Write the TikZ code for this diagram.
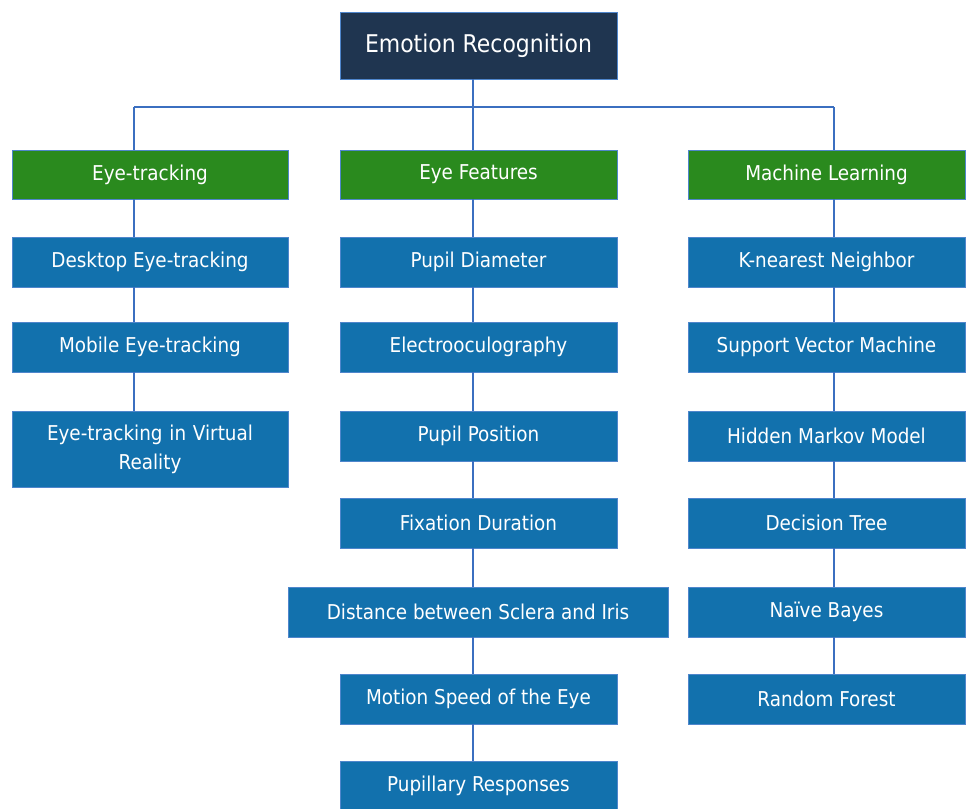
\documentclass[tikz,border=0pt]{standalone}
\usepackage{fontspec}
\setmainfont{DejaVu Sans Condensed}
\definecolor{navy}{HTML}{1F3550}
\definecolor{leafgreen}{HTML}{2A8A1E}
\definecolor{itemblue}{HTML}{1271AD}
\definecolor{edgeblue}{HTML}{4F86CC}
\definecolor{wireblue}{HTML}{3B6FC0}
\begin{document}
\begin{tikzpicture}[x=1bp,y=-1bp,
  box/.style={draw=edgeblue, line width=0.9bp, text=white, align=center,
    inner sep=0pt, font=\fontsize{20.5}{29}\selectfont},
  rootbox/.style={box, fill=navy, font=\fontsize{24.5}{29}\selectfont},
  catbox/.style={box, fill=leafgreen},
  itembox/.style={box, fill=itemblue},
  wire/.style={draw=wireblue, line width=1.2bp}]
\useasboundingbox (0,0) rectangle (967,809);

% column axes of the connectors
\coordinate (cx1) at (134,0);
\coordinate (cx2) at (473,0);
\coordinate (cx3) at (834,0);
\coordinate (bus) at (0,107);

% root
\node[rootbox, minimum width=277bp, minimum height=67bp] (root) at (478.5,45.5) {Emotion Recognition};

% categories
\node[catbox, minimum width=276bp, minimum height=49bp] (c1) at (150,174.5) {Eye-tracking};
\node[catbox, minimum width=277bp, minimum height=49bp] (c2) at (478.5,174.5) {Eye Features};
\node[catbox, minimum width=277bp, minimum height=49bp] (c3) at (826.5,174.5) {Machine Learning};

% eye-tracking column
\node[itembox, minimum width=276bp, minimum height=50bp] (a1) at (150,262) {Desktop Eye-tracking};
\node[itembox, minimum width=276bp, minimum height=50bp] (a2) at (150,347) {Mobile Eye-tracking};
\node[itembox, minimum width=276bp, minimum height=76bp, text width=260bp] (a3) at (150,449) {Eye-tracking in Virtual\\Reality};

% eye features column
\node[itembox, minimum width=277bp, minimum height=50bp] (b1) at (478.5,262) {Pupil Diameter};
\node[itembox, minimum width=277bp, minimum height=50bp] (b2) at (478.5,347) {Electrooculography};
\node[itembox, minimum width=277bp, minimum height=50bp] (b3) at (478.5,436) {Pupil Position};
\node[itembox, minimum width=277bp, minimum height=50bp] (b4) at (478.5,523) {Fixation Duration};
\node[itembox, minimum width=380bp, minimum height=50bp] (b5) at (478,612) {Distance between Sclera and Iris};
\node[itembox, minimum width=277bp, minimum height=50bp] (b6) at (478.5,699) {Motion Speed of the Eye};
\node[itembox, minimum width=277bp, minimum height=50bp] (b7) at (478.5,786) {Pupillary Responses};

% machine learning column
\node[itembox, minimum width=277bp, minimum height=50bp] (m1) at (826.5,262) {K-nearest Neighbor};
\node[itembox, minimum width=277bp, minimum height=50bp] (m2) at (826.5,347) {Support Vector Machine};
\node[itembox, minimum width=277bp, minimum height=50bp] (m3) at (826.5,436) {Hidden Markov Model};
\node[itembox, minimum width=277bp, minimum height=50bp] (m4) at (826.5,523) {Decision Tree};
\node[itembox, minimum width=277bp, minimum height=50bp] (m5) at (826.5,612) {Naïve Bayes};
\node[itembox, minimum width=277bp, minimum height=50bp] (m6) at (826.5,699) {Random Forest};

% tree connectors
\draw[wire] (root.south -| cx2) -- (bus -| cx2);
\draw[wire] (bus -| cx1) -- (bus -| cx3);
\draw[wire] (bus -| cx1) -- (c1.north -| cx1);
\draw[wire] (bus -| cx2) -- (c2.north -| cx2);
\draw[wire] (bus -| cx3) -- (c3.north -| cx3);

\foreach \u/\v in {c1/a1, a1/a2, a2/a3}
  \draw[wire] (\u.south -| cx1) -- (\v.north -| cx1);
\foreach \u/\v in {c2/b1, b1/b2, b2/b3, b3/b4, b4/b5, b5/b6, b6/b7}
  \draw[wire] (\u.south -| cx2) -- (\v.north -| cx2);
\foreach \u/\v in {c3/m1, m1/m2, m2/m3, m3/m4, m4/m5, m5/m6}
  \draw[wire] (\u.south -| cx3) -- (\v.north -| cx3);
\end{tikzpicture}
\end{document}
